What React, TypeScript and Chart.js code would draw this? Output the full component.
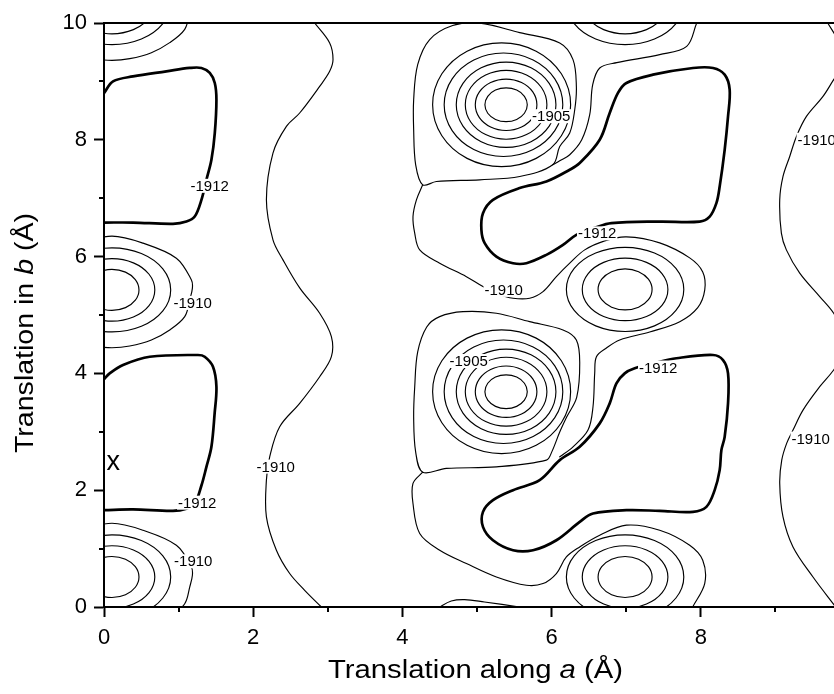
import React, { useEffect, useRef } from 'react';
import { Chart, registerables } from 'chart.js';

Chart.register(...registerables);

type Pt = [number, number];

// ---------------- data (in axis units: Å) ----------------
const axisMin = 0;
const axisMax = 10;
const tickStep = 1;
const labelStep = 2;

const xTitleParts = [{ t: 'Translation along ', i: false }, { t: 'a', i: true }, { t: ' (Å)', i: false }];
const yTitleParts = [{ t: 'Translation in ', i: false }, { t: 'b', i: true }, { t: ' (Å)', i: false }];

// peak centres (thin rings around them)
const leftPeakCenters: Pt[] = [[0.107, 0.514], [0.107, 5.43], [0.107, 10.35]];
const rightPeakCenters: Pt[] = [[6.985, 0.514], [6.985, 5.438], [6.985, 10.35]];
const bigPeakCenters: Pt[] = [[5.39, 8.6], [5.39, 3.686]];

// closed ring outlines relative to their centre (the path closes back to the first point)
const smallRing1: Pt[] = [[0.362,0],[0.313,0.176],[0.181,0.304],[0,0.351],[-0.181,0.304],[-0.313,0.176],[-0.362,0],[-0.313,-0.176],[-0.181,-0.304],[0,-0.351],[0.181,-0.304],[0.313,-0.176]];
const smallRing2: Pt[] = [[0.574,0],[0.497,0.268],[0.287,0.463],[0,0.535],[-0.287,0.463],[-0.497,0.268],[-0.574,0],[-0.497,-0.268],[-0.287,-0.463],[0,-0.535],[0.287,-0.463],[0.497,-0.268]];
const smallRing3: Pt[] = [[0.787,0],[0.682,0.36],[0.394,0.624],[0,0.72],[-0.394,0.624],[-0.682,0.36],[-0.787,0],[-0.682,-0.36],[-0.394,-0.624],[0,-0.72],[0.394,-0.624],[0.682,-0.36]];
const smallRing4: Pt[] = [[0,0.92],[0.416,0.8],[0.863,0.543],[1.065,0.17],[1.078,0.03],[1.042,-0.172],[0.975,-0.458],[0.774,-0.686],[0.528,-0.858],[0.238,-0.961],[0,-0.99],[-0.238,-0.961],[-0.528,-0.858],[-0.774,-0.686],[-0.975,-0.458],[-1.042,-0.172],[-1.078,0.03],[-1.065,0.17],[-0.863,0.543],[-0.416,0.8]];

const bigRing1: Pt[] = [[0.284,0],[0.246,0.145],[0.142,0.251],[0,0.29],[-0.142,0.251],[-0.246,0.145],[-0.284,0],[-0.246,-0.145],[-0.142,-0.251],[0,-0.29],[0.142,-0.251],[0.246,-0.145]];
const bigRing2: Pt[] = [[0.413,0],[0.358,0.22],[0.207,0.381],[0,0.44],[-0.207,0.381],[-0.358,0.22],[-0.413,0],[-0.358,-0.22],[-0.207,-0.381],[0,-0.44],[0.207,-0.381],[0.358,-0.22]];
const bigRing3: Pt[] = [[0.547,0],[0.474,0.295],[0.274,0.511],[0,0.59],[-0.274,0.511],[-0.474,0.295],[-0.547,0],[-0.474,-0.295],[-0.274,-0.511],[0,-0.59],[0.274,-0.511],[0.474,-0.295]];
const bigRing4: Pt[] = [[0.668,0],[0.578,0.365],[0.334,0.632],[0,0.73],[-0.334,0.632],[-0.578,0.365],[-0.668,0],[-0.578,-0.365],[-0.334,-0.632],[0,-0.73],[0.334,-0.632],[0.578,-0.365]];
const bigRing5: Pt[] = [[0.76,0],[0.653,0.443],[0.363,0.767],[-0.035,0.886],[-0.433,0.767],[-0.723,0.443],[-0.83,0],[-0.723,-0.443],[-0.433,-0.767],[-0.035,-0.886],[0.363,-0.767],[0.653,-0.443]];
const bigRing6: Pt[] = [[0.865,0],[0.741,0.53],[0.403,0.918],[-0.06,1.06],[-0.523,0.918],[-0.861,0.53],[-0.985,0],[-0.861,-0.53],[-0.523,-0.918],[-0.06,-1.06],[0.403,-0.918],[0.741,-0.53]];

// -1912 contours (thick)
const thickUpperLeft: Pt[] = [[0,8.8],[0.121,9.0],[0.389,9.086],[0.836,9.172],[1.149,9.23],[1.306,9.23],[1.418,9.145],[1.485,8.973],[1.507,8.687],[1.485,8.116],[1.44,7.658],[1.373,7.315],[1.306,6.972],[1.216,6.686],[1.105,6.6],[0.925,6.561],[0.389,6.583],[0,6.583]];
const thickLowerLeft: Pt[] = [[0,3.9],[0.076,4.0],[0.255,4.144],[0.613,4.285],[1.26,4.315],[1.35,4.285],[1.461,4.114],[1.507,3.772],[1.483,3.316],[1.44,2.743],[1.373,2.4],[1.306,2.08],[1.216,1.771],[1.105,1.685],[0.925,1.646],[0.389,1.67],[0,1.658]];
const thickUpperMid: Pt[] = [[5.059,6.458],[5.08,6.744],[5.214,6.972],[5.572,7.173],[5.93,7.286],[6.243,7.487],[6.377,7.602],[6.645,8.001],[6.779,8.459],[6.89,8.802],[7.003,8.973],[7.359,9.115],[7.895,9.23],[8.164,9.23],[8.32,9.115],[8.387,8.858],[8.365,8.4],[8.32,7.829],[8.253,7.2],[8.209,6.916],[8.119,6.686],[7.985,6.6],[7.449,6.6],[6.802,6.573],[6.578,6.492],[6.332,6.372],[6.153,6.201],[5.93,6.03],[5.662,5.887],[5.483,5.887],[5.26,6.0],[5.103,6.23]];
const thickLowerMid: Pt[] = [[5.08,1.629],[5.08,1.372],[5.214,1.143],[5.483,0.972],[5.751,0.972],[6.064,1.143],[6.377,1.457],[6.555,1.601],[7.003,1.658],[7.449,1.646],[7.895,1.629],[8.075,1.714],[8.186,2.001],[8.253,2.344],[8.276,2.686],[8.32,2.914],[8.365,3.487],[8.365,4.001],[8.298,4.229],[8.164,4.315],[7.673,4.259],[7.382,4.178],[7.114,4.087],[6.98,4.001],[6.869,3.83],[6.779,3.487],[6.645,3.144],[6.377,2.743],[6.109,2.515],[5.84,2.172],[5.483,2.001],[5.214,1.829]];

// -1910 and other thin contours
const waveLeft: Pt[] = [[2.824,10.0],[3.025,9.659],[3.07,9.373],[3.025,9.172],[2.891,8.915],[2.623,8.459],[2.445,8.229],[2.265,7.773],[2.177,6.972],[2.265,6.286],[2.399,5.944],[2.623,5.464],[2.891,5.03],[3.048,4.629],[3.048,4.286],[2.891,3.943],[2.623,3.487],[2.355,3.087],[2.221,2.572],[2.177,2.172],[2.177,1.543],[2.311,0.972],[2.489,0.573],[2.69,0.286],[2.914,0]];
const waveRight: Pt[] = [[9.701,10.0],[9.835,9.716],[9.915,9.459],[9.889,9.236],[9.781,9.03],[9.638,8.743],[9.416,8.4],[9.282,8.058],[9.192,7.715],[9.102,7.372],[9.058,6.972],[9.08,6.402],[9.147,6.115],[9.326,5.716],[9.594,5.315],[9.781,5.03],[9.889,4.744],[9.929,4.538],[9.889,4.298],[9.781,4.058],[9.594,3.772],[9.37,3.372],[9.236,3.03],[9.152,2.806],[9.085,2.515],[9.058,2.116],[9.102,1.543],[9.236,1.029],[9.504,0.514],[9.809,0]];
const outerUpperPeak: Pt[] = [[4.272,7.229],[4.178,7.572],[4.151,8.172],[4.151,8.687],[4.205,9.287],[4.366,9.716],[4.674,9.956],[5.036,9.998],[5.573,9.835],[6.109,9.659],[6.287,9.373],[6.332,8.915],[6.31,8.515],[6.243,8.116],[6.109,7.886],[6.015,7.572],[5.573,7.372],[5.036,7.315],[4.456,7.286]];
const outerLowerPeak: Pt[] = [[4.272,2.309],[4.178,2.652],[4.151,3.252],[4.165,3.767],[4.205,4.367],[4.326,4.795],[4.5,4.972],[4.812,5.057],[5.26,5.03],[5.706,4.886],[6.153,4.744],[6.332,4.572],[6.377,4.178],[6.337,3.595],[6.202,3.252],[6.109,2.995],[6.001,2.652],[5.93,2.515],[5.26,2.4],[4.59,2.373]];
const topWrap: Pt[] = [[7.945,10.0],[7.811,9.6],[7.449,9.458],[6.873,9.321],[6.645,9.23],[6.551,8.944],[6.511,8.43],[6.404,8.001],[6.243,7.744],[6.109,7.641],[6.015,7.572]];
const middleWrap: Pt[] = [[4.272,7.229],[4.188,6.972],[4.142,6.686],[4.165,6.401],[4.232,6.115],[4.5,5.887],[4.858,5.657],[5.08,5.486],[5.277,5.361],[5.483,5.287],[5.706,5.287],[5.885,5.4],[6.064,5.657],[6.243,5.887],[6.444,6.115],[6.712,6.27],[7.003,6.338],[7.449,6.235],[7.851,5.978],[8.026,5.738],[8.053,5.43],[7.959,5.126],[7.718,4.886],[7.315,4.709],[6.913,4.572],[6.735,4.435],[6.601,4.286],[6.578,4.006],[6.555,3.429],[6.488,3.029],[6.287,2.743],[6.109,2.572]];
const bottomWrap: Pt[] = [[4.272,2.309],[4.142,2.116],[4.142,1.773],[4.232,1.258],[4.5,0.972],[4.858,0.744],[5.26,0.514],[5.662,0.372],[5.885,0.401],[6.064,0.573],[6.198,0.857],[6.377,1.029],[6.645,1.229],[7.003,1.401],[7.449,1.315],[7.851,1.058],[8.026,0.801],[8.053,0.406],[7.891,0]];
const bottomBump: Pt[] = [[4.45,-0.05],[4.5,0],[4.655,0.103],[4.834,0.127],[5.1,0.086],[5.57,0],[5.65,-0.02]];

const contourLabels = [
  { text: '-1912', x: 1.417, y: 7.212 },
  { text: '-1910', x: 1.189, y: 5.207 },
  { text: '-1912', x: 1.249, y: 1.786 },
  { text: '-1910', x: 1.196, y: 0.783 },
  { text: '-1910', x: 2.302, y: 2.404 },
  { text: '-1905', x: 5.995, y: 8.404 },
  { text: '-1905', x: 4.889, y: 4.212 },
  { text: '-1910', x: 5.358, y: 5.43 },
  { text: '-1912', x: 6.611, y: 6.398 },
  { text: '-1912', x: 7.429, y: 4.101 },
  { text: '-1910', x: 9.554, y: 8.0 },
  { text: '-1910', x: 9.473, y: 2.884 },
];
const minimumMark = { text: 'x', x: 0.125, y: 2.344 };

// ---------------- chart construction ----------------
const FONT = "'Liberation Sans', Arial, Helvetica, sans-serif";

const pts = (arr: Pt[], c: Pt = [0, 0]) => arr.map(([x, y]) => ({ x: x + c[0], y: y + c[1] }));
const line = (data: { x: number; y: number }[], width: number, closed: boolean) => ({
  data,
  borderColor: '#000',
  borderWidth: width,
  pointRadius: 0,
  tension: 0.35,
  fill: false,
  spanGaps: true,
  closedLoop: closed,
});
const THIN = 1.15;
const THICK = 2.7;

function buildDatasets() {
  const ds: any[] = [];
  leftPeakCenters.forEach((c) => {
    if (c[1] < axisMax) ds.push(line(pts(smallRing1, c), THIN, true));
    ds.push(line(pts(smallRing2, c), THIN, true));
    ds.push(line(pts(smallRing3, c), THIN, true));
    ds.push(line(pts(smallRing4, c), THIN, true));
  });
  rightPeakCenters.forEach((c) => {
    if (c[1] < axisMax) ds.push(line(pts(smallRing1, c), THIN, true));
    ds.push(line(pts(smallRing2, c), THIN, true));
    ds.push(line(pts(smallRing3, c), THIN, true));
  });
  bigPeakCenters.forEach((c) => {
    [bigRing1, bigRing2, bigRing3, bigRing4, bigRing5, bigRing6].forEach((r) => ds.push(line(pts(r, c), THIN, true)));
  });
  ds.push(line(pts(outerUpperPeak), THIN, true));
  ds.push(line(pts(outerLowerPeak), THIN, true));
  [waveLeft, waveRight, topWrap, middleWrap, bottomWrap, bottomBump].forEach((l) => ds.push(line(pts(l), THIN, false)));
  ds.push(line(pts(thickUpperLeft), THICK, false));
  ds.push(line(pts(thickLowerLeft), THICK, false));
  ds.push(line(pts(thickUpperMid), THICK, true));
  ds.push(line(pts(thickLowerMid), THICK, true));
  return ds;
}

// closes ring datasets smoothly (same mechanism the radar chart uses)
const loopCloser = {
  id: 'loopCloser',
  afterDatasetsUpdate(chart: any) {
    chart.data.datasets.forEach((ds: any, i: number) => {
      if (!ds.closedLoop) return;
      const el = chart.getDatasetMeta(i).dataset;
      if (!el) return;
      el._loop = true;
      el._fullLoop = true;
      el.points = el.points;
    });
  },
};

function drawRich(ctx: CanvasRenderingContext2D, parts: { t: string; i: boolean }[], size: number, targetLen: number) {
  const widths = parts.map((p) => {
    ctx.font = `${p.i ? 'italic ' : ''}${size}px ${FONT}`;
    return ctx.measureText(p.t).width;
  });
  const total = widths.reduce((a, b) => a + b, 0);
  ctx.scale(targetLen / total, 1);
  let cx = 0;
  parts.forEach((p, k) => {
    ctx.font = `${p.i ? 'italic ' : ''}${size}px ${FONT}`;
    ctx.fillText(p.t, cx, 0);
    cx += widths[k];
  });
}

const decor = {
  id: 'decor',
  afterDraw(chart: any) {
    const { ctx, chartArea: a } = chart;
    const xs = chart.scales.x;
    const ys = chart.scales.y;
    ctx.save();
    ctx.strokeStyle = '#000';
    ctx.lineWidth = 2;
    ctx.beginPath();
    ctx.moveTo(a.left - 1, Math.round(a.top));
    ctx.lineTo(a.right + 1, Math.round(a.top));
    ctx.moveTo(Math.round(a.right), a.top);
    ctx.lineTo(Math.round(a.right), a.bottom);
    ctx.stroke();
    // minor ticks
    ctx.beginPath();
    for (let v = axisMin + tickStep; v < axisMax; v += labelStep) {
      const px = Math.round(xs.getPixelForValue(v));
      ctx.moveTo(px, a.bottom);
      ctx.lineTo(px, a.bottom + 5);
      const py = Math.round(ys.getPixelForValue(v));
      ctx.moveTo(a.left, py);
      ctx.lineTo(a.left - 5, py);
    }
    ctx.stroke();

    // contour labels
    ctx.font = `15px ${FONT}`;
    ctx.textAlign = 'center';
    ctx.textBaseline = 'middle';
    contourLabels.forEach((l) => {
      const px = xs.getPixelForValue(l.x);
      const py = ys.getPixelForValue(l.y);
      const w = ctx.measureText(l.text).width;
      ctx.fillStyle = '#fff';
      ctx.fillRect(px - w / 2 - 1, py - 7, w + 2, 14);
      ctx.fillStyle = '#000';
      ctx.fillText(l.text, px, py + 1);
    });
    ctx.font = `27px ${FONT}`;
    ctx.textBaseline = 'alphabetic';
    ctx.fillText(minimumMark.text, xs.getPixelForValue(minimumMark.x), ys.getPixelForValue(minimumMark.y));

    // axis titles
    ctx.textAlign = 'left';
    ctx.textBaseline = 'alphabetic';
    ctx.fillStyle = '#000';
    ctx.save();
    ctx.translate(328, 678);
    drawRich(ctx, xTitleParts, 26, 295);
    ctx.restore();
    ctx.save();
    ctx.translate(33, 453);
    ctx.rotate(-Math.PI / 2);
    drawRich(ctx, yTitleParts, 26, 240);
    ctx.restore();
    ctx.restore();
  },
};

const tickColor = (c: any) => (c.tick && Math.round(c.tick.value) % labelStep === 0 ? '#000' : 'rgba(0,0,0,0)');
const tickLabel = (v: any) => (Math.round(Number(v)) % labelStep === 0 ? String(v) : '');

function axis(pos: 'bottom' | 'left') {
  return {
    type: 'linear',
    position: pos,
    min: axisMin,
    max: axisMax,
    afterFit: (s: any) => {
      if (pos === 'bottom') s.height = 87;
      else s.width = 104;
    },
    border: { display: true, color: '#000', width: 2 },
    grid: { display: true, drawOnChartArea: false, drawTicks: true, tickLength: 10, tickWidth: 2, tickColor },
    ticks: {
      stepSize: tickStep,
      autoSkip: false,
      maxRotation: 0,
      padding: pos === 'bottom' ? 8 : 7,
      color: '#000',
      font: { family: FONT, size: 22 },
      callback: tickLabel,
    },
    title: { display: false },
  };
}

export default function App() {
  const ref = useRef<HTMLCanvasElement>(null);
  useEffect(() => {
    const canvas = ref.current;
    if (!canvas) return;
    const chart = new Chart(canvas, {
      type: 'line',
      data: { datasets: buildDatasets() },
      options: {
        responsive: false,
        animation: false,
        devicePixelRatio: 1,
        events: [],
        layout: { padding: { top: 23, right: 30, bottom: 0, left: 0 } },
        elements: { line: { capBezierPoints: false, borderJoinStyle: 'round', borderCapStyle: 'round' }, point: { radius: 0 } },
        plugins: { legend: { display: false }, tooltip: { enabled: false } },
        scales: { x: axis('bottom'), y: axis('left') } as any,
      } as any,
      plugins: [loopCloser, decor],
    });
    return () => chart.destroy();
  }, []);
  return (
    <div style={{ position: 'fixed', left: 0, top: 0, width: 834, height: 694, overflow: 'hidden', background: '#fff' }}>
      <canvas ref={ref} width={880} height={694} style={{ display: 'block', width: 880, height: 694 }} />
    </div>
  );
}
